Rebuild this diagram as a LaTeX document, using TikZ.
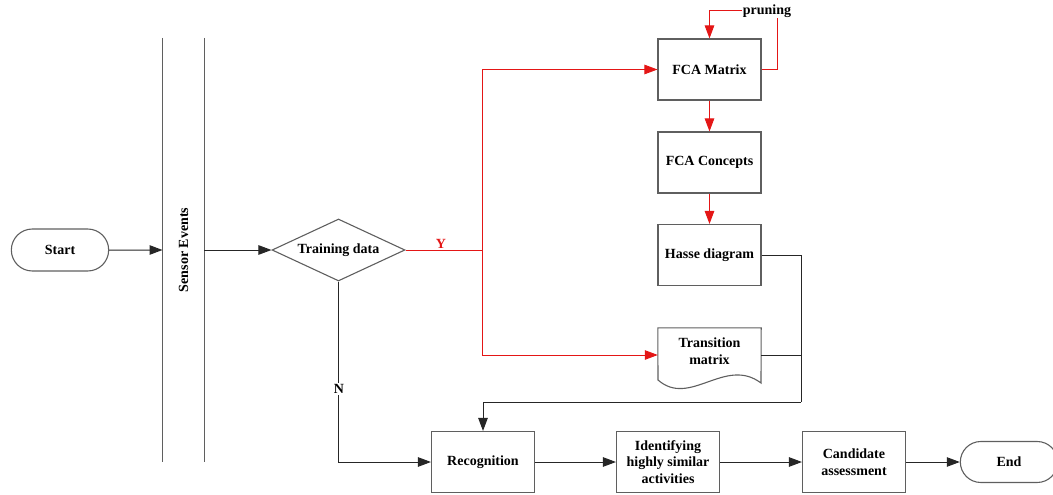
\documentclass[tikz,border=0pt]{standalone}
\usepackage{fontspec}
\setmainfont{Liberation Serif}
\usetikzlibrary{shapes.geometric,shapes.misc,arrows.meta}
\definecolor{boxgray}{RGB}{95,95,95}
\definecolor{flowred}{RGB}{228,22,22}
\begin{document}
\begin{tikzpicture}[x=1pt,y=-1pt,
  lbl/.style={font=\fontsize{14}{16.5}\selectfont\bfseries},
  proc/.style={lbl, draw=boxgray, line width=1.1pt, minimum width=103pt,
    minimum height=61pt, inner sep=2pt, align=center},
  term/.style={lbl, rounded rectangle, draw=boxgray, line width=1.1pt,
    minimum width=104pt, minimum height=42pt},
  decision/.style={lbl, diamond, draw=boxgray, line width=1.1pt, aspect=2.1,
    inner sep=0pt, minimum width=133pt, minimum height=62pt},
  tip/.style={-{Triangle[length=13pt,width=9.5pt]}},
  flow/.style={line width=1pt, draw=black!85, tip},
  plain/.style={line width=1pt, draw=black!85},
  redflow/.style={line width=1pt, draw=flowred, tip},
  redplain/.style={line width=1pt, draw=flowred},
  lane/.style={line width=1pt, draw=boxgray}]
\useasboundingbox (0,0) rectangle (1053,495);

% swimlane for the sensor events
\coordinate (laneLtop) at (162.5,38);
\coordinate (laneLbot) at (162.5,462);
\coordinate (laneRtop) at (204,38);
\coordinate (laneRbot) at (204,462);
\draw[lane] (laneLtop) -- (laneLbot);
\draw[lane] (laneRtop) -- (laneRbot);
\node[lbl, rotate=90] (sensor) at (183.5,250) {Sensor Events};
\coordinate (laneIn) at (162.5,250);
\coordinate (laneOut) at (204,250);

% nodes
\node[term] (start) at (60,250) {Start};
\node[decision] (train) at (338.5,250) {Training data};
\node[proc] (fca) at (709.5,69.5) {FCA Matrix};
\node[proc] (concepts) at (709.5,162.5) {FCA Concepts};
\node[proc] (hasse) at (709.5,255) {Hasse diagram};
\node[lbl, align=center, minimum width=103pt, minimum height=54pt,
  inner sep=0pt, text depth=8pt] (trans) at (709.5,355) {Transition\\matrix};
\draw[draw=boxgray, line width=1.1pt] (trans.north west) -- (trans.north east)
  -- (761,383) .. controls (725,356) and (690,408) .. (658,380) -- cycle;
\node[proc] (recog) at (483,462) {Recognition};
\node[proc] (ident) at (668,462) {Identifying\\highly similar\\activities};
\node[proc] (cand) at (854,462) {Candidate\\assessment};
\node[term, minimum height=41pt] (end) at (1009,462) {End};

% helper coordinates
\coordinate (split) at (482,250);
\coordinate (prunetop) at (777,11);
\coordinate (hasseout) at (801,255);
\coordinate (transout) at (801,355);
\coordinate (merge) at (801,402);

% main flow
\draw[flow] (start) -- (laneIn);
\draw[flow] (laneOut) -- (train);

% training branch
\draw[redplain] (train.east) -- (split);
\draw[redflow] (split) |- (fca.west);
\draw[redflow] (split) |- (trans.west);
\node[lbl, text=flowred, anchor=base, inner sep=0pt] (ylabel) at (441,248.5) {Y};
\draw[redflow] (fca.east) -| (prunetop) -| (fca.north);
\node[lbl, fill=white, inner sep=1pt] (pruning) at (767,11) {pruning};
\draw[redflow] (fca) -- (concepts);
\draw[redflow] (concepts) -- (hasse);

% models feed recognition
\draw[plain] (hasse.east) -- (hasseout) -- (merge);
\draw[plain] (trans.east) -- (transout);
\draw[flow] (merge) -| (recog.north);

% recognition branch
\draw[flow] (train.south) |- (recog.west);
\node[lbl, fill=white, inner sep=1.5pt] (nlabel) at (339,389) {N};
\draw[flow] (recog) -- (ident);
\draw[flow] (ident) -- (cand);
\draw[flow] (cand) -- (end);
\end{tikzpicture}
\end{document}
